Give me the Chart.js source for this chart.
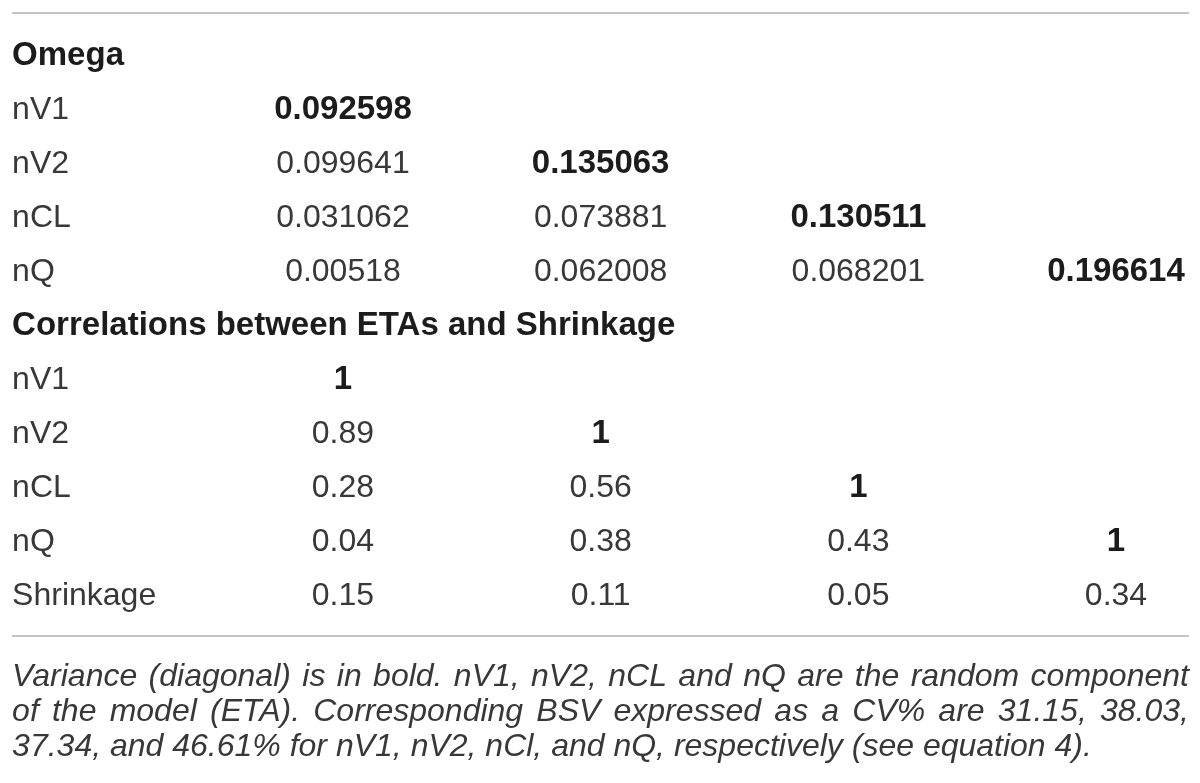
<!DOCTYPE html>
<html>
<head>
<meta charset="utf-8">
<script src="https://cdn.jsdelivr.net/npm/chart.js@4.4.1/dist/chart.umd.min.js"></script>
<style>
    html, body { margin: 0; padding: 0; background: #fff; }
    #wrap { width: 1200px; height: 783px; position: relative; }
</style>
</head>
<body>
<div id="wrap"><canvas id="tableChart"></canvas></div>
<script>
// Table data

var sectionTitles = ['Omega', 'Correlations between ETAs and Shrinkage'];
var paramNames = ['nV1', 'nV2', 'nCL', 'nQ'];
var omegaValues = [
    [0.092598],
    [0.099641, 0.135063],
    [0.031062, 0.073881, 0.130511],
    [0.00518, 0.062008, 0.068201, 0.196614]
];
var corrValues = [
    [1],
    [0.89, 1],
    [0.28, 0.56, 1],
    [0.04, 0.38, 0.43, 1]
];
var shrinkLabel = 'Shrinkage';
var shrinkValues = [0.15, 0.11, 0.05, 0.34];
var footnoteLines = [
    'Variance (diagonal) is in bold. nV1, nV2, nCL and nQ are the random component',
    'of the model (ETA). Corresponding BSV expressed as a CV% are 31.15, 38.03,',
    '37.34, and 46.61% for nV1, nV2, nCl, and nQ, respectively (see equation 4).'
];

// Layout in scale units

var LABEL_X = -0.284;
var RIGHT_X = 4.283;
var RULE_TOP = -0.963;
var RULE_BOTTOM = 10.574;
var NOTE_Y = [11.5, 12.149, 12.797];

var FONT = '"Liberation Sans", Arial, sans-serif';
var FONT_SIZE = 32;
var BOLD_SIZE = 33;

// Build cells

var cells = [];

function addSection(title, startRow, values)
{
    cells.push({ x: LABEL_X, y: startRow, text: title, bold: true, left: true });
    for (var r = 0; r < values.length; r++)
    {
        cells.push({ x: LABEL_X, y: startRow + 1 + r, text: paramNames[r], bold: false, left: true });
        for (var c = 0; c < values[r].length; c++)
        {
            cells.push({ x: c + 1, y: startRow + 1 + r, text: String(values[r][c]), bold: c === r, left: false });
        }
    }
}

addSection(sectionTitles[0], 0, omegaValues);
addSection(sectionTitles[1], 5, corrValues);

cells.push({ x: LABEL_X, y: 10, text: shrinkLabel, bold: false, left: true });
for (var i = 0; i < shrinkValues.length; i++)
{
    cells.push({ x: i + 1, y: 10, text: shrinkValues[i].toFixed(2), bold: false, left: false });
}

// Plugins

var rulesPlugin = {
    id: 'rules',
    beforeDatasetsDraw: function (chart)
    {
        var ctx = chart.ctx;
        var xs = chart.scales.x, ys = chart.scales.y;
        ctx.save();
        ctx.strokeStyle = '#c4c4c4';
        ctx.lineWidth = 2;
        [RULE_TOP, RULE_BOTTOM].forEach(function (v)
        {
            var y = Math.round(ys.getPixelForValue(v));
            ctx.beginPath();
            ctx.moveTo(xs.getPixelForValue(LABEL_X), y);
            ctx.lineTo(xs.getPixelForValue(RIGHT_X), y);
            ctx.stroke();
        });
        ctx.restore();
    }
};

var cellTextPlugin = {
    id: 'cellText',
    afterDatasetsDraw: function (chart)
    {
        var ctx = chart.ctx;
        var meta = chart.getDatasetMeta(0);
        var data = chart.data.datasets[0].data;
        ctx.save();
        ctx.textBaseline = 'alphabetic';
        meta.data.forEach(function (el, i)
        {
            var d = data[i];
            ctx.font = d.bold ? 'bold ' + BOLD_SIZE + 'px ' + FONT : FONT_SIZE + 'px ' + FONT;
            ctx.fillStyle = d.bold ? '#1c1c1c' : '#383838';
            ctx.textAlign = d.left ? 'left' : 'center';
            ctx.fillText(d.text, el.x, el.y);
        });
        ctx.restore();
    }
};

var footnotePlugin = {
    id: 'footnote',
    afterDraw: function (chart)
    {
        var ctx = chart.ctx;
        var xs = chart.scales.x, ys = chart.scales.y;
        var left = xs.getPixelForValue(LABEL_X);
        var right = xs.getPixelForValue(RIGHT_X);
        ctx.save();
        ctx.font = 'italic ' + FONT_SIZE + 'px ' + FONT;
        ctx.fillStyle = '#383838';
        ctx.textAlign = 'left';
        ctx.textBaseline = 'alphabetic';
        footnoteLines.forEach(function (line, n)
        {
            var y = ys.getPixelForValue(NOTE_Y[n]);
            var words = line.split(' ');
            var gap = ctx.measureText(' ').width;
            if (n < footnoteLines.length - 1)
            {
                var total = 0;
                words.forEach(function (w) { total += ctx.measureText(w).width; });
                gap = (right - left - total) / (words.length - 1);
            }
            var x = left;
            words.forEach(function (w)
            {
                ctx.fillText(w, x, y);
                x += ctx.measureText(w).width + gap;
            });
        });
        ctx.restore();
    }
};

// Chart

var ctx = document.getElementById('tableChart').getContext('2d');
var myChart = new Chart(ctx,
{
    type: 'scatter',
    data:
    {
        datasets: [
        {
            data: cells,
            pointRadius: 0,
            pointHoverRadius: 0
        }]
    },
    options:
    {
        responsive: true,
        maintainAspectRatio: false,
        animation: false,
        layout: { padding: 0 },
        plugins:
        {
            legend: { display: false },
            tooltip: { enabled: false }
        },
        scales:
        {
            x: { type: 'linear', display: false, min: -0.331, max: 4.326 },
            y: { type: 'linear', display: false, reverse: true, min: -1.2037, max: 13.296 }
        }
    },
    plugins: [rulesPlugin, cellTextPlugin, footnotePlugin]
});
</script>
</body>
</html>
